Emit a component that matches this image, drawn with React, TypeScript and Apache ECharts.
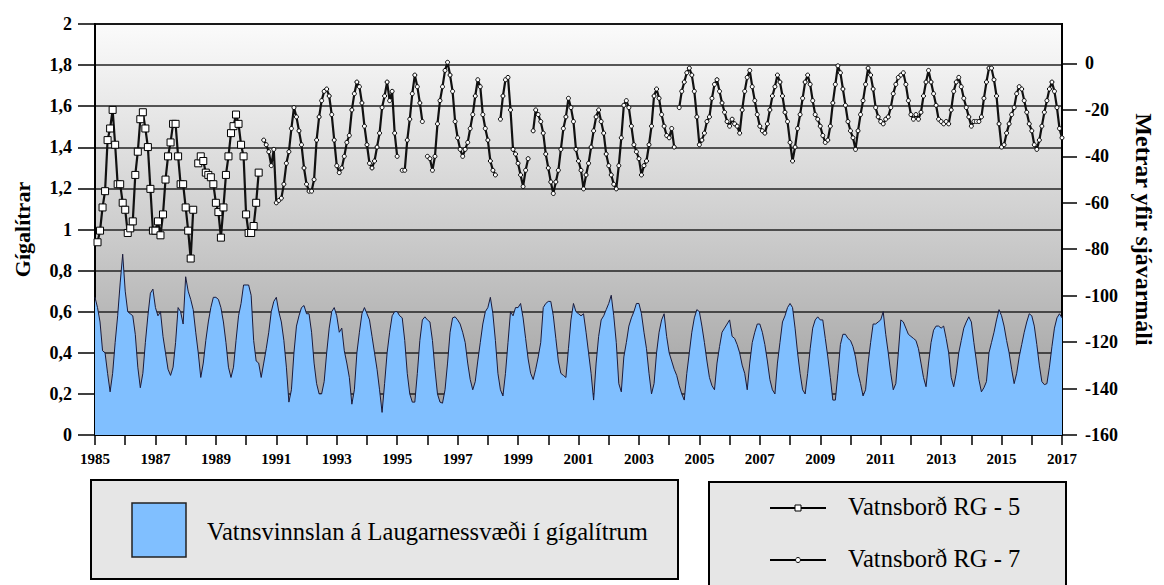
import React, { useEffect, useRef } from "react";
import * as echarts from "echarts";

// ---------- data ----------
const START_YEAR = 1985;
const END_YEAR = 2017;
const leftAxisMax = 2;
const rightTickValues = [-160, -140, -120, -100, -80, -60, -40, -20, 0];

const seriesNames = {
  production: "Vatnsvinnslan á Laugarnessvæði í gígalítrum",
  rg5: "Vatnsborð RG - 5",
  rg7: "Vatnsborð RG - 7",
};

// monthly withdrawal, gigalitres (Jan 1985 onward)
const production1985to1988 = [
  0.67, 0.62, 0.55, 0.41, 0.40, 0.30, 0.21, 0.30, 0.45, 0.58, 0.74, 0.88,
  0.70, 0.60, 0.59, 0.58, 0.49, 0.33, 0.23, 0.30, 0.45, 0.58, 0.69, 0.71,
  0.62, 0.58, 0.60, 0.48, 0.40, 0.32, 0.29, 0.33, 0.45, 0.62, 0.60, 0.54,
  0.77, 0.70, 0.66, 0.61, 0.50, 0.40, 0.28, 0.35, 0.46, 0.55, 0.62, 0.67,
];
const production1989to1992 = [
  0.67, 0.66, 0.62, 0.55, 0.45, 0.33, 0.28, 0.33, 0.46, 0.58, 0.64, 0.73,
  0.73, 0.73, 0.68, 0.46, 0.36, 0.35, 0.28, 0.35, 0.42, 0.50, 0.60, 0.65,
  0.67, 0.60, 0.55, 0.46, 0.33, 0.16, 0.22, 0.40, 0.53, 0.58, 0.62, 0.63,
  0.59, 0.59, 0.50, 0.35, 0.25, 0.20, 0.20, 0.26, 0.40, 0.52, 0.60, 0.62,
];
const production1993to1996 = [
  0.58, 0.50, 0.52, 0.41, 0.35, 0.28, 0.15, 0.22, 0.40, 0.50, 0.59, 0.62,
  0.59, 0.56, 0.48, 0.40, 0.32, 0.22, 0.11, 0.25, 0.40, 0.50, 0.58, 0.60,
  0.60, 0.58, 0.57, 0.46, 0.30, 0.20, 0.16, 0.16, 0.30, 0.46, 0.56, 0.575,
  0.56, 0.55, 0.46, 0.32, 0.20, 0.16, 0.155, 0.22, 0.35, 0.50, 0.57, 0.575,
];
const production1997to2000 = [
  0.56, 0.54, 0.50, 0.45, 0.35, 0.27, 0.22, 0.26, 0.36, 0.45, 0.54, 0.60,
  0.62, 0.67, 0.59, 0.46, 0.30, 0.22, 0.19, 0.30, 0.45, 0.60, 0.58, 0.62,
  0.62, 0.64, 0.57, 0.47, 0.37, 0.30, 0.27, 0.32, 0.38, 0.45, 0.62, 0.64,
  0.65, 0.65, 0.58, 0.47, 0.36, 0.30, 0.29, 0.28, 0.42, 0.56, 0.64, 0.60,
];
const production2001to2004 = [
  0.59, 0.58, 0.59, 0.50, 0.40, 0.30, 0.17, 0.35, 0.48, 0.56, 0.58, 0.61,
  0.64, 0.68, 0.58, 0.45, 0.25, 0.21, 0.38, 0.45, 0.53, 0.57, 0.60, 0.64,
  0.64, 0.59, 0.50, 0.42, 0.30, 0.20, 0.25, 0.40, 0.50, 0.56, 0.59, 0.48,
  0.40, 0.36, 0.32, 0.29, 0.24, 0.20, 0.17, 0.30, 0.40, 0.50, 0.57, 0.61,
];
const production2005to2008 = [
  0.60, 0.53, 0.45, 0.36, 0.28, 0.24, 0.22, 0.35, 0.43, 0.50, 0.52, 0.54,
  0.56, 0.48, 0.47, 0.44, 0.40, 0.34, 0.30, 0.22, 0.35, 0.45, 0.50, 0.54,
  0.54, 0.50, 0.44, 0.36, 0.27, 0.22, 0.20, 0.35, 0.45, 0.55, 0.58, 0.62,
  0.64, 0.62, 0.52, 0.40, 0.30, 0.22, 0.20, 0.30, 0.42, 0.52, 0.56, 0.575,
];
const production2009to2012 = [
  0.56, 0.56, 0.47, 0.38, 0.28, 0.17, 0.17, 0.30, 0.44, 0.49, 0.49, 0.47,
  0.46, 0.43, 0.38, 0.30, 0.25, 0.19, 0.22, 0.35, 0.45, 0.54, 0.54, 0.55,
  0.56, 0.60, 0.49, 0.40, 0.30, 0.22, 0.25, 0.40, 0.56, 0.55, 0.52, 0.49,
  0.48, 0.47, 0.46, 0.42, 0.35, 0.28, 0.235, 0.35, 0.45, 0.51, 0.53, 0.53,
];
const production2013to2017 = [
  0.52, 0.53, 0.47, 0.40, 0.28, 0.235, 0.30, 0.40, 0.46, 0.52, 0.55, 0.575,
  0.55, 0.45, 0.36, 0.27, 0.21, 0.23, 0.26, 0.40, 0.45, 0.50, 0.56, 0.61,
  0.58, 0.53, 0.46, 0.40, 0.32, 0.25, 0.30, 0.38, 0.44, 0.50, 0.55, 0.59,
  0.58, 0.53, 0.44, 0.34, 0.26, 0.245, 0.25, 0.33, 0.43, 0.52, 0.57, 0.59,
  0.57,
];

// water level RG-5, metres above sea level, monthly from Feb 1985
const rg5StartYear = 1985;
const rg5StartMonth = 1;
const rg5Levels = [
  -77, -72, -62, -55, -33, -28, -20, -35, -52, -52, -60,
  -63, -73, -71, -68, -48, -38, -24, -21, -28, -36, -54, -72,
  -72, -68, -74, -65, -50, -40, -34, -26, -26, -40, -52, -52,
  -62, -72, -84, -63, null, -43, -40, -42, -47, -48, -49, -52,
  -60, -64, -75, -62, -48, -40, -30, -27, -22, -26, -35, -40,
  -65, -73, -73, -70, -60, -47,
];

// water level RG-7, metres above sea level, monthly from Aug 1990
const rg7StartYear = 1990;
const rg7StartMonth = 7;
const rg7Levels1990to1996 = [
  -33, -35, -38, -44, -37,
  -60, -59, -58, -52, -43, -38, -28, -19, -23, -29, -35, -45,
  -52, -55, -55, -50, -33, -23, -16, -12, -11, -14, -22, -33,
  -44, -47, -45, -40, -34, -31, -20, -13, -8, -10, -17, -27,
  -35, -43, -45, -42, -36, -30, -19, -14, -8, -16, -12, -30,
  -40, null, -46, -46, -33, -24, -13, -5, -10, -17, -25, null,
  -40, -41, -46, -40, -26, -16, -10, -3, 0.5, -5, -12, -25,
];
const rg7Levels1997to2003 = [
  -32, -37, -40, -37, -34, -28, -22, -14, -7, -10, -22, -28,
  -33, -42, -46, -48, null, -24, -14, -7, -6, -20, -37, -39,
  -43, -48, -53, -46, -41, null, -29, -20, -22, -25, -30, -39,
  -45, -51, -56, -51, -46, -37, -28, -23, -15, -19, -25, -37,
  -42, -46, -54, -48, -43, -36, -29, -23, -20, -25, -30, -39,
  -44, -48, -52, -54, -44, -32, -18, -16, -19, -27, -35, -38,
  -41, -48, -44, -42, -35, -27, -14, -11, -15, -22, -27, -31,
];
const rg7Levels2004to2010 = [
  -32, -28, -36, null, -19, -12, -8, -4, -2, -5, -12, -23,
  -35, -33, -30, -25, -23, -15, -9, -7, -12, -17, -21, -25,
  -27, -24, -26, -27, -30, -20, -12, -6, -3, -10, -16, -22,
  -27, -29, -30, -26, -20, -14, -10, -5, -8, -14, -21, -25,
  -34, -42, -36, -28, -22, -15, -8, -5, -9, -16, -22, -24,
  -27, -31, -34, -33, -27, -17, -9, -1, -4, -11, -18, -25,
  -29, -32, -37, -29, -22, -16, -9, -2, -5, -11, -19, -23,
];
const rg7Levels2011to2017 = [
  -25, -26, -24, -23, -19, -13, -9, -6, -5, -4, -9, -16,
  -22, -24, -22, -24, -21, -14, -8, -3, -8, -13, -18, -24,
  -25, -26, -25, -26, -20, -12, -8, -6, -10, -15, -19, -23,
  -27, -25, -25, -25, -23, -15, -8, -2, -2, -7, -14, -26,
  -36, -35, -30, -26, -22, -19, -13, -10, -11, -16, -21, -26,
  -29, -35, -37, -33, -27, -21, -16, -11, -8, -12, -19, -28,
  -32,
];

// ---------- helpers ----------
function monthly(startYear: number, startMonth: number, values: (number | null)[]) {
  return values.map((v, i) => [startYear + (startMonth + i) / 12, v]);
}

const SERIF = "Liberation Serif";

export default function App() {
  const ref = useRef<HTMLDivElement>(null);

  useEffect(() => {
    if (!ref.current) return;
    const chart = echarts.init(ref.current, null, { renderer: "svg" });

    const productionData = monthly(START_YEAR, 0, [
      ...production1985to1988,
      ...production1989to1992,
      ...production1993to1996,
      ...production1997to2000,
      ...production2001to2004,
      ...production2005to2008,
      ...production2009to2012,
      ...production2013to2017,
    ]);
    const rg5Data = monthly(rg5StartYear, rg5StartMonth, rg5Levels);
    const rg7Data = monthly(rg7StartYear, rg7StartMonth, [
      ...rg7Levels1990to1996,
      ...rg7Levels1997to2003,
      ...rg7Levels2004to2010,
      ...rg7Levels2011to2017,
    ]);

    const axisLabelFont = {
      fontFamily: SERIF,
      fontWeight: "bold" as const,
      fontSize: 18,
      color: "#000",
    };

    chart.setOption({
      animation: false,
      backgroundColor: "#ffffff",
      textStyle: { fontFamily: SERIF },
      grid: {
        left: 95,
        right: 99,
        top: 24,
        bottom: 150,
        show: true,
        borderColor: "#000",
        borderWidth: 2,
        backgroundColor: new echarts.graphic.LinearGradient(0, 0, 0, 1, [
          { offset: 0, color: "#fbfbfb" },
          { offset: 0.5, color: "#cdcdcd" },
          { offset: 1, color: "#999999" },
        ]),
      },
      xAxis: {
        type: "value",
        min: START_YEAR,
        max: END_YEAR,
        interval: 1,
        axisLine: { show: true, lineStyle: { color: "#000", width: 2 } },
        axisTick: { show: true, length: 10, lineStyle: { color: "#000", width: 1.5 } },
        axisLabel: {
          margin: 16,
          fontFamily: SERIF,
          fontWeight: "bold",
          fontSize: 15,
          color: "#000",
          formatter: (v: number) => (Math.round(v) % 2 === 1 ? String(Math.round(v)) : ""),
        },
        splitLine: { show: false },
      },
      yAxis: [
        {
          type: "value",
          min: 0,
          max: leftAxisMax,
          interval: 0.2,
          position: "left",
          name: "Gígalítrar",
          nameLocation: "middle",
          nameRotate: 90,
          nameGap: 62,
          nameTextStyle: { fontFamily: SERIF, fontWeight: "bold", fontSize: 22, color: "#000" },
          axisLine: { show: true, lineStyle: { color: "#000", width: 2 } },
          axisTick: { show: true, length: 17, lineStyle: { color: "#000", width: 1.5 } },
          axisLabel: {
            ...axisLabelFont,
            margin: 23,
            formatter: (v: number) => String(Math.round(v * 10) / 10).replace(".", ","),
          },
          splitLine: { show: true, lineStyle: { color: "#222", width: 1.6 } },
        },
        {
          type: "value",
          min: -160,
          max: 17,
          position: "right",
          name: "Metrar yfir sjávarmáli",
          nameLocation: "middle",
          nameRotate: -90,
          nameGap: 70,
          nameTextStyle: { fontFamily: SERIF, fontWeight: "bold", fontSize: 24, color: "#000" },
          axisLine: { show: true, lineStyle: { color: "#000", width: 2 } },
          axisTick: {
            show: true,
            length: 15,
            customValues: rightTickValues,
            lineStyle: { color: "#000", width: 1.5 },
          },
          axisLabel: {
            ...axisLabelFont,
            margin: 23,
            customValues: rightTickValues,
          },
          splitLine: { show: false },
        },
      ],
      series: [
        {
          name: seriesNames.production,
          type: "line",
          yAxisIndex: 0,
          data: productionData,
          symbol: "none",
          lineStyle: { color: "#1a1a3a", width: 1 },
          areaStyle: { color: "#80BFFF", opacity: 1 },
          z: 2,
        },
        {
          name: seriesNames.rg5,
          type: "line",
          yAxisIndex: 1,
          data: rg5Data,
          connectNulls: false,
          symbol: "rect",
          symbolSize: 7,
          itemStyle: { color: "#ffffff", borderColor: "#000", borderWidth: 1 },
          lineStyle: { color: "#111", width: 2.2 },
          z: 3,
        },
        {
          name: seriesNames.rg7,
          type: "line",
          yAxisIndex: 1,
          data: rg7Data,
          connectNulls: false,
          symbol: "circle",
          symbolSize: 4,
          itemStyle: { color: "#ffffff", borderColor: "#000", borderWidth: 1 },
          lineStyle: { color: "#111", width: 2.2 },
          z: 3,
        },
      ],
      graphic: [
        {
          type: "rect",
          shape: { x: 91, y: 480, width: 587, height: 99 },
          style: { fill: "#e6e6e6", stroke: "#000", lineWidth: 2 },
        },
        {
          type: "rect",
          shape: { x: 132, y: 503, width: 54, height: 54 },
          style: { fill: "#80BFFF", stroke: "#222", lineWidth: 1.5 },
        },
        {
          type: "text",
          x: 207,
          y: 531,
          style: {
            text: seriesNames.production,
            fontFamily: SERIF,
            fontSize: 24.5,
            fill: "#000",
            textVerticalAlign: "middle",
          },
        },
        {
          type: "rect",
          shape: { x: 709, y: 482, width: 357, height: 112 },
          style: { fill: "#e6e6e6", stroke: "#000", lineWidth: 2 },
        },
        {
          type: "line",
          shape: { x1: 770, y1: 508, x2: 826, y2: 508 },
          style: { stroke: "#000", lineWidth: 2 },
        },
        {
          type: "rect",
          shape: { x: 795, y: 505, width: 6, height: 6 },
          style: { fill: "#fff", stroke: "#000", lineWidth: 1 },
        },
        {
          type: "text",
          x: 848,
          y: 506,
          style: {
            text: seriesNames.rg5,
            fontFamily: SERIF,
            fontSize: 24.5,
            fill: "#000",
            textVerticalAlign: "middle",
          },
        },
        {
          type: "line",
          shape: { x1: 770, y1: 560, x2: 826, y2: 560 },
          style: { stroke: "#000", lineWidth: 2 },
        },
        {
          type: "circle",
          shape: { cx: 798, cy: 560, r: 2.5 },
          style: { fill: "#fff", stroke: "#000", lineWidth: 1 },
        },
        {
          type: "text",
          x: 848,
          y: 558,
          style: {
            text: seriesNames.rg7,
            fontFamily: SERIF,
            fontSize: 24.5,
            fill: "#000",
            textVerticalAlign: "middle",
          },
        },
      ],
    });

    return () => chart.dispose();
  }, []);

  return (
    <div
      ref={ref}
      style={{ position: "fixed", left: 0, top: 0, width: 1164, height: 585, background: "#fff" }}
    />
  );
}
